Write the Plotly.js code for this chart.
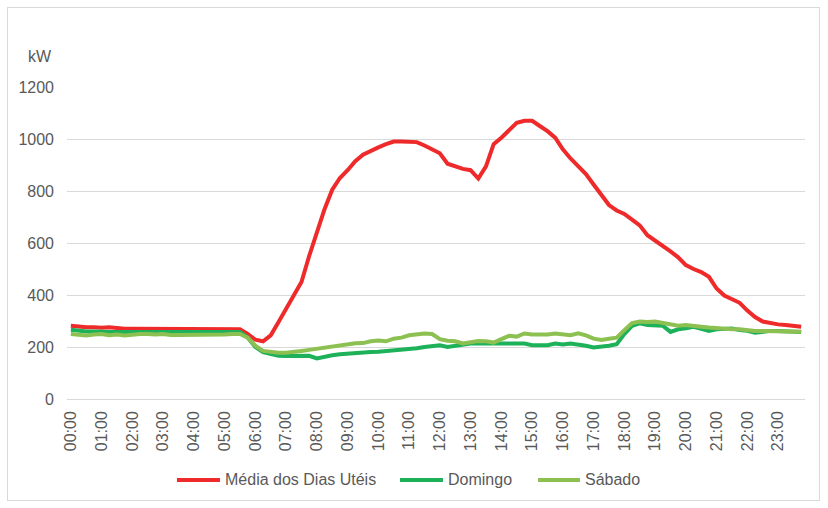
<!DOCTYPE html>
<html>
<head>
<meta charset="utf-8">
<script src="https://cdn.plot.ly/plotly-3.0.1.min.js"></script>
<style>
  html, body { margin: 0; padding: 0; background: #ffffff; }
  #wrap { position: relative; width: 828px; height: 508px; }
  #chart { width: 828px; height: 508px; }
  #frame { position: absolute; left: 7px; top: 7px; width: 813px; height: 494px; border: 1px solid #d9d9d9; pointer-events: none; box-sizing: border-box; }
</style>
</head>
<body>
<div id="wrap">
  <div id="chart"></div>
  <div id="frame"></div>
</div>
<script>
// Time categories (15-minute steps) and hourly tick labels
var hourLabels = ["00:00","01:00","02:00","03:00","04:00","05:00","06:00","07:00","08:00","09:00","10:00","11:00",
                  "12:00","13:00","14:00","15:00","16:00","17:00","18:00","19:00","20:00","21:00","22:00","23:00"];
var minuteSteps = ["00","15","30","45"];
var times = [];
for (var h = 0; h < hourLabels.length; h++) {
  for (var m = 0; m < minuteSteps.length; m++) {
    times.push(hourLabels[h].slice(0, 3) + minuteSteps[m]);
  }
}

// Series values (kW), one per 15 minutes
var mediaDiasUteis = [
  282,278,276,276,274,276,272,270,270,270,269,268,268,268,268,268,268,268,268,268,268,268,268,250,
  228,222,245,295,345,395,450,550,640,730,805,850,880,915,940,955,968,980,990,990,990,988,975,960,
  945,905,895,885,880,848,895,980,1005,1035,1062,1070,1070,1050,1030,1005,960,925,895,865,825,785,746,725,
  712,690,668,630,610,590,568,545,515,500,488,470,425,398,385,370,340,315,298,292,287,285,280,278
];
var domingo = [
  266,262,260,260,258,258,258,258,258,258,258,258,258,258,258,258,258,258,258,258,258,258,258,237,
  200,180,172,166,165,165,164,166,156,163,168,172,175,177,178,181,182,184,188,190,192,195,200,205,
  207,200,205,210,213,213,213,213,213,213,213,213,207,207,207,213,210,213,210,205,198,200,205,211,
  250,281,291,285,283,282,258,268,272,278,270,262,268,271,271,265,262,255,260,262,262,260,258,258
];
var sabado = [
  250,248,244,248,250,245,248,244,248,250,250,248,250,246,246,246,248,248,248,248,248,250,250,236,
  205,185,180,178,178,180,185,189,193,200,202,205,212,214,215,222,225,222,232,236,245,248,252,250,
  230,224,222,214,220,223,222,217,230,243,240,252,248,247,248,252,250,245,253,245,232,227,232,236,
  265,292,298,296,298,292,288,282,285,280,278,275,272,270,268,268,264,262,262,262,260,262,259,259
];

var seriesNames = ["Média dos Dias Utéis", "Domingo", "Sábado"];
var seriesColors = ["#EE2A2B", "#1DB159", "#8CC152"];
var seriesValues = [mediaDiasUteis, domingo, sabado];

var traces = seriesValues.map(function (vals, k) {
  return {
    x: times,
    y: vals,
    type: "scatter",
    mode: "lines",
    name: seriesNames[k],
    line: { color: seriesColors[k], width: 4 },
    hoverinfo: "x+y+name"
  };
});

var fontFamily = "'Liberation Sans', Arial, sans-serif";
var textColor = "#595959";

// Legend drawn below the plot (paper coordinates)
var legendY = -0.2596;
var legendLineX = [[0.149, 0.2073], [0.4512, 0.5095], [0.6382, 0.6951]];
var legendShapes = legendLineX.map(function (xx, k) {
  return {
    type: "line", xref: "paper", yref: "paper",
    x0: xx[0], x1: xx[1], y0: legendY, y1: legendY,
    line: { color: seriesColors[k], width: 4 }
  };
});
var legendAnnotations = legendLineX.map(function (xx, k) {
  return {
    text: seriesNames[k], xref: "paper", yref: "paper",
    x: xx[1] + 0.004, y: legendY, xanchor: "left", yanchor: "middle",
    showarrow: false,
    font: { family: fontFamily, size: 16, color: textColor }
  };
});

var layout = {
  width: 828,
  height: 508,
  margin: { l: 67, r: 23, t: 87, b: 109 },
  paper_bgcolor: "#ffffff",
  plot_bgcolor: "#ffffff",
  font: { family: fontFamily, size: 16, color: textColor },
  showlegend: false,
  xaxis: {
    type: "category",
    categoryorder: "array",
    categoryarray: times,
    range: [-0.5, times.length - 0.5],
    tickmode: "array",
    tickvals: hourLabels,
    ticktext: hourLabels,
    tickangle: -90,
    ticklabelstandoff: 8,
    showgrid: false,
    zeroline: false,
    showline: false,
    ticks: "",
    tickfont: { family: fontFamily, size: 16, color: textColor }
  },
  yaxis: {
    range: [0, 1200],
    tickmode: "linear",
    tick0: 0,
    dtick: 200,
    showgrid: true,
    gridcolor: "#d9d9d9",
    gridwidth: 1,
    zeroline: true,
    zerolinecolor: "#d9d9d9",
    zerolinewidth: 1,
    showline: false,
    ticks: "",
    ticklabelstandoff: 12,
    tickfont: { family: fontFamily, size: 16, color: textColor }
  },
  shapes: legendShapes,
  annotations: [{
    text: "kW",
    xref: "paper",
    yref: "paper",
    x: -0.0366,
    y: 1.099,
    xanchor: "center",
    yanchor: "middle",
    showarrow: false,
    font: { family: fontFamily, size: 16, color: textColor }
  }].concat(legendAnnotations)
};

Plotly.newPlot("chart", traces, layout, { displayModeBar: false, staticPlot: true });
</script>
</body>
</html>
